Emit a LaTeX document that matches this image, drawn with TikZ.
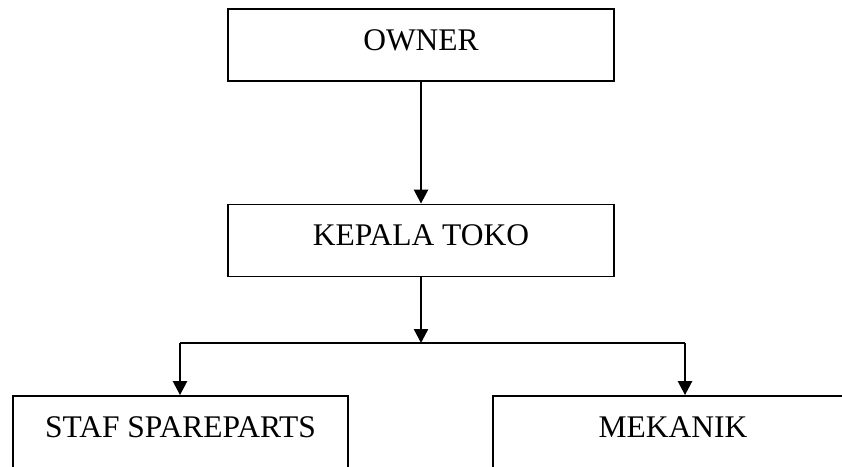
\documentclass[tikz,border=0pt]{standalone}
\usepackage{fontspec}
\setmainfont{Liberation Serif}
\usetikzlibrary{arrows.meta}

\tikzset{
  unit/.style={draw, line width=1.8pt, minimum height=72pt, inner sep=0pt,
    text height=20pt, text depth=10pt, font=\fontsize{31.5}{31.5}\selectfont},
  link/.style={line width=2.5pt, -{Triangle[width=14pt,length=14pt]}}
}

\begin{document}
\begin{tikzpicture}[x=1pt,y=-1pt]
	\clip (0,0) rectangle (842,466);

	% Boxes
	\node[unit, minimum width=386pt] (owner) at (421,45) {OWNER};
	\node[unit, minimum width=386pt] (kepala) at (421,240.5) {KEPALA TOKO};
	\node[unit, minimum width=335pt] (staf) at (180.5,432) {STAF SPAREPARTS};
	\node[unit, minimum width=360pt] (mekanik) at (673,432) {MEKANIK};

	% Branch points
	\coordinate (mid) at (421,343);
	\coordinate (left) at (180,343);
	\coordinate (right) at (685,343);

	% Connectors
	\draw[link] (owner) -- (kepala);
	\draw[link] (kepala) -- (mid);
	\draw[line width=2.5pt] (left) -- (right);
	\draw[link] (left) -- (left |- staf.north);
	\draw[link] (right) -- (right |- mekanik.north);
\end{tikzpicture}
\end{document}
